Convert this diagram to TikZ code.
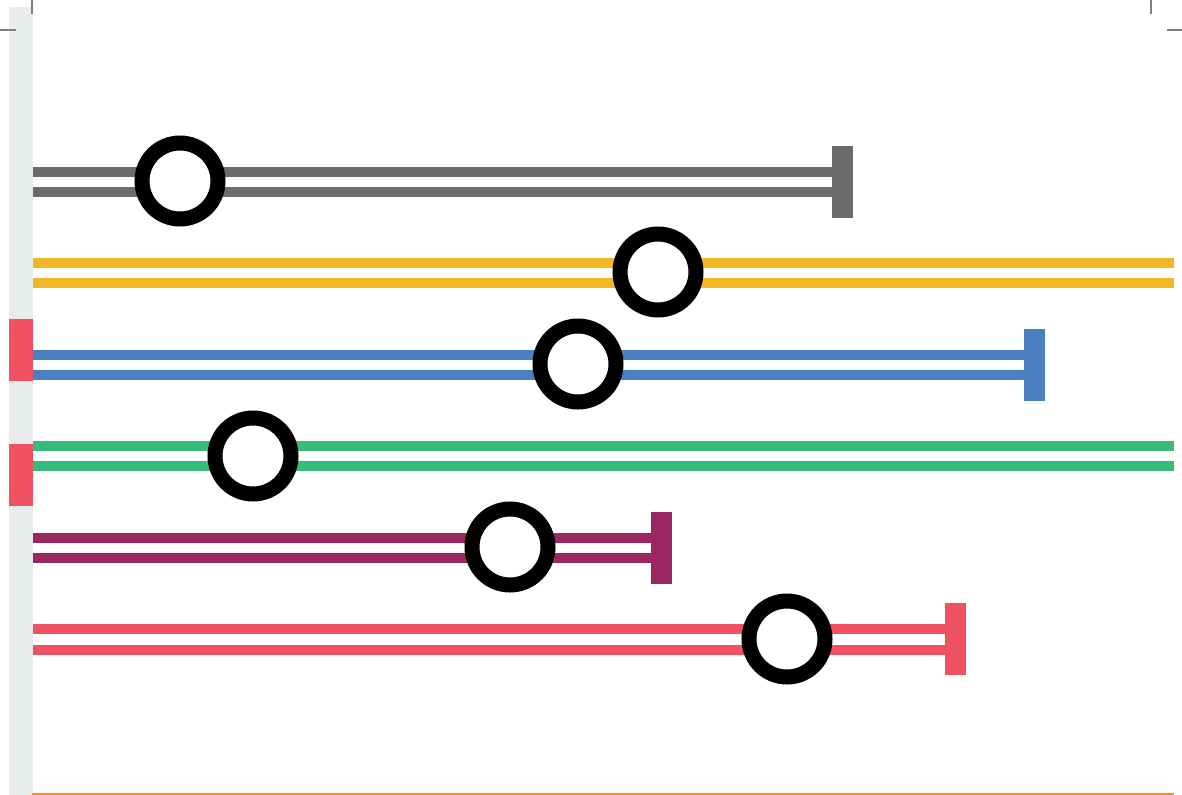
\documentclass[tikz,border=0pt]{standalone}
\definecolor{cgray}{HTML}{6B6B69}
\definecolor{cyellow}{HTML}{F0B823}
\definecolor{cblue}{HTML}{4A7FC1}
\definecolor{cgreen}{HTML}{37BB7B}
\definecolor{cpurple}{HTML}{9A2762}
\definecolor{cred}{HTML}{F05263}
\definecolor{cbar}{HTML}{E8ECEC}
\definecolor{corange}{HTML}{F7931E}
\definecolor{cmark}{HTML}{808080}
\tikzset{
  track/.style={line width=10bp},
  ring/.style={circle, draw=black, fill=white, line width=15bp, minimum size=76bp, inner sep=0pt},
  endcap/.style={minimum width=21bp, minimum height=72bp, inner sep=0pt},
  cropmark/.style={draw=cmark, line width=1.2bp},
}
\begin{document}
\begin{tikzpicture}[x=1bp,y=-1bp]
\useasboundingbox (0,0) rectangle (1182,795);
% left bar
\fill[cbar] (9,7) rectangle (33,795);
\fill[cred] (9,319) rectangle (33,381);
\fill[cred] (9,444) rectangle (33,506);
% crop marks
\draw[cropmark] (32,0) -- (32,14);
\draw[cropmark] (0,30) -- (16,30);
\draw[cropmark] (1151,0) -- (1151,14);
\draw[cropmark] (1167,30) -- (1182,30);
% bottom line
\coordinate (b1) at (32,794);
\coordinate (b2) at (1174,794);
\draw[corange, line width=1.5bp] (b1) -- (b2);
% start coordinates
\coordinate (s1) at (33,181.5);
\coordinate (s2) at (33,272.5);
\coordinate (s3) at (33,364.5);
\coordinate (s4) at (33,455.5);
\coordinate (s5) at (33,547.5);
\coordinate (s6) at (33,639);
% end caps
\node[endcap, fill=cgray] (e1) at (842.5,182) {};
\coordinate (e2) at (1174,272.5);
\node[endcap, fill=cblue] (e3) at (1034.5,365) {};
\coordinate (e4) at (1174,455.5);
\node[endcap, fill=cpurple] (e5) at (661.5,548) {};
\node[endcap, fill=cred] (e6) at (955.5,639) {};
% tracks
\foreach \s/\e/\c in {s1/e1/cgray, s2/e2/cyellow, s3/e3/cblue, s4/e4/cgreen, s5/e5/cpurple, s6/e6/cred}{
  \draw[track, \c] ([yshift=-10.5bp]\s) -- ([yshift=-10.5bp]\s -| \e.center);
  \draw[track, \c] ([yshift=10bp]\s) -- ([yshift=10bp]\s -| \e.center);
}
% rings
\node[ring] (r1) at (180,181) {};
\node[ring] (r2) at (658,272) {};
\node[ring] (r3) at (578,364) {};
\node[ring] (r4) at (253,456) {};
\node[ring] (r5) at (510,547) {};
\node[ring] (r6) at (787,639) {};
\end{tikzpicture}
\end{document}
